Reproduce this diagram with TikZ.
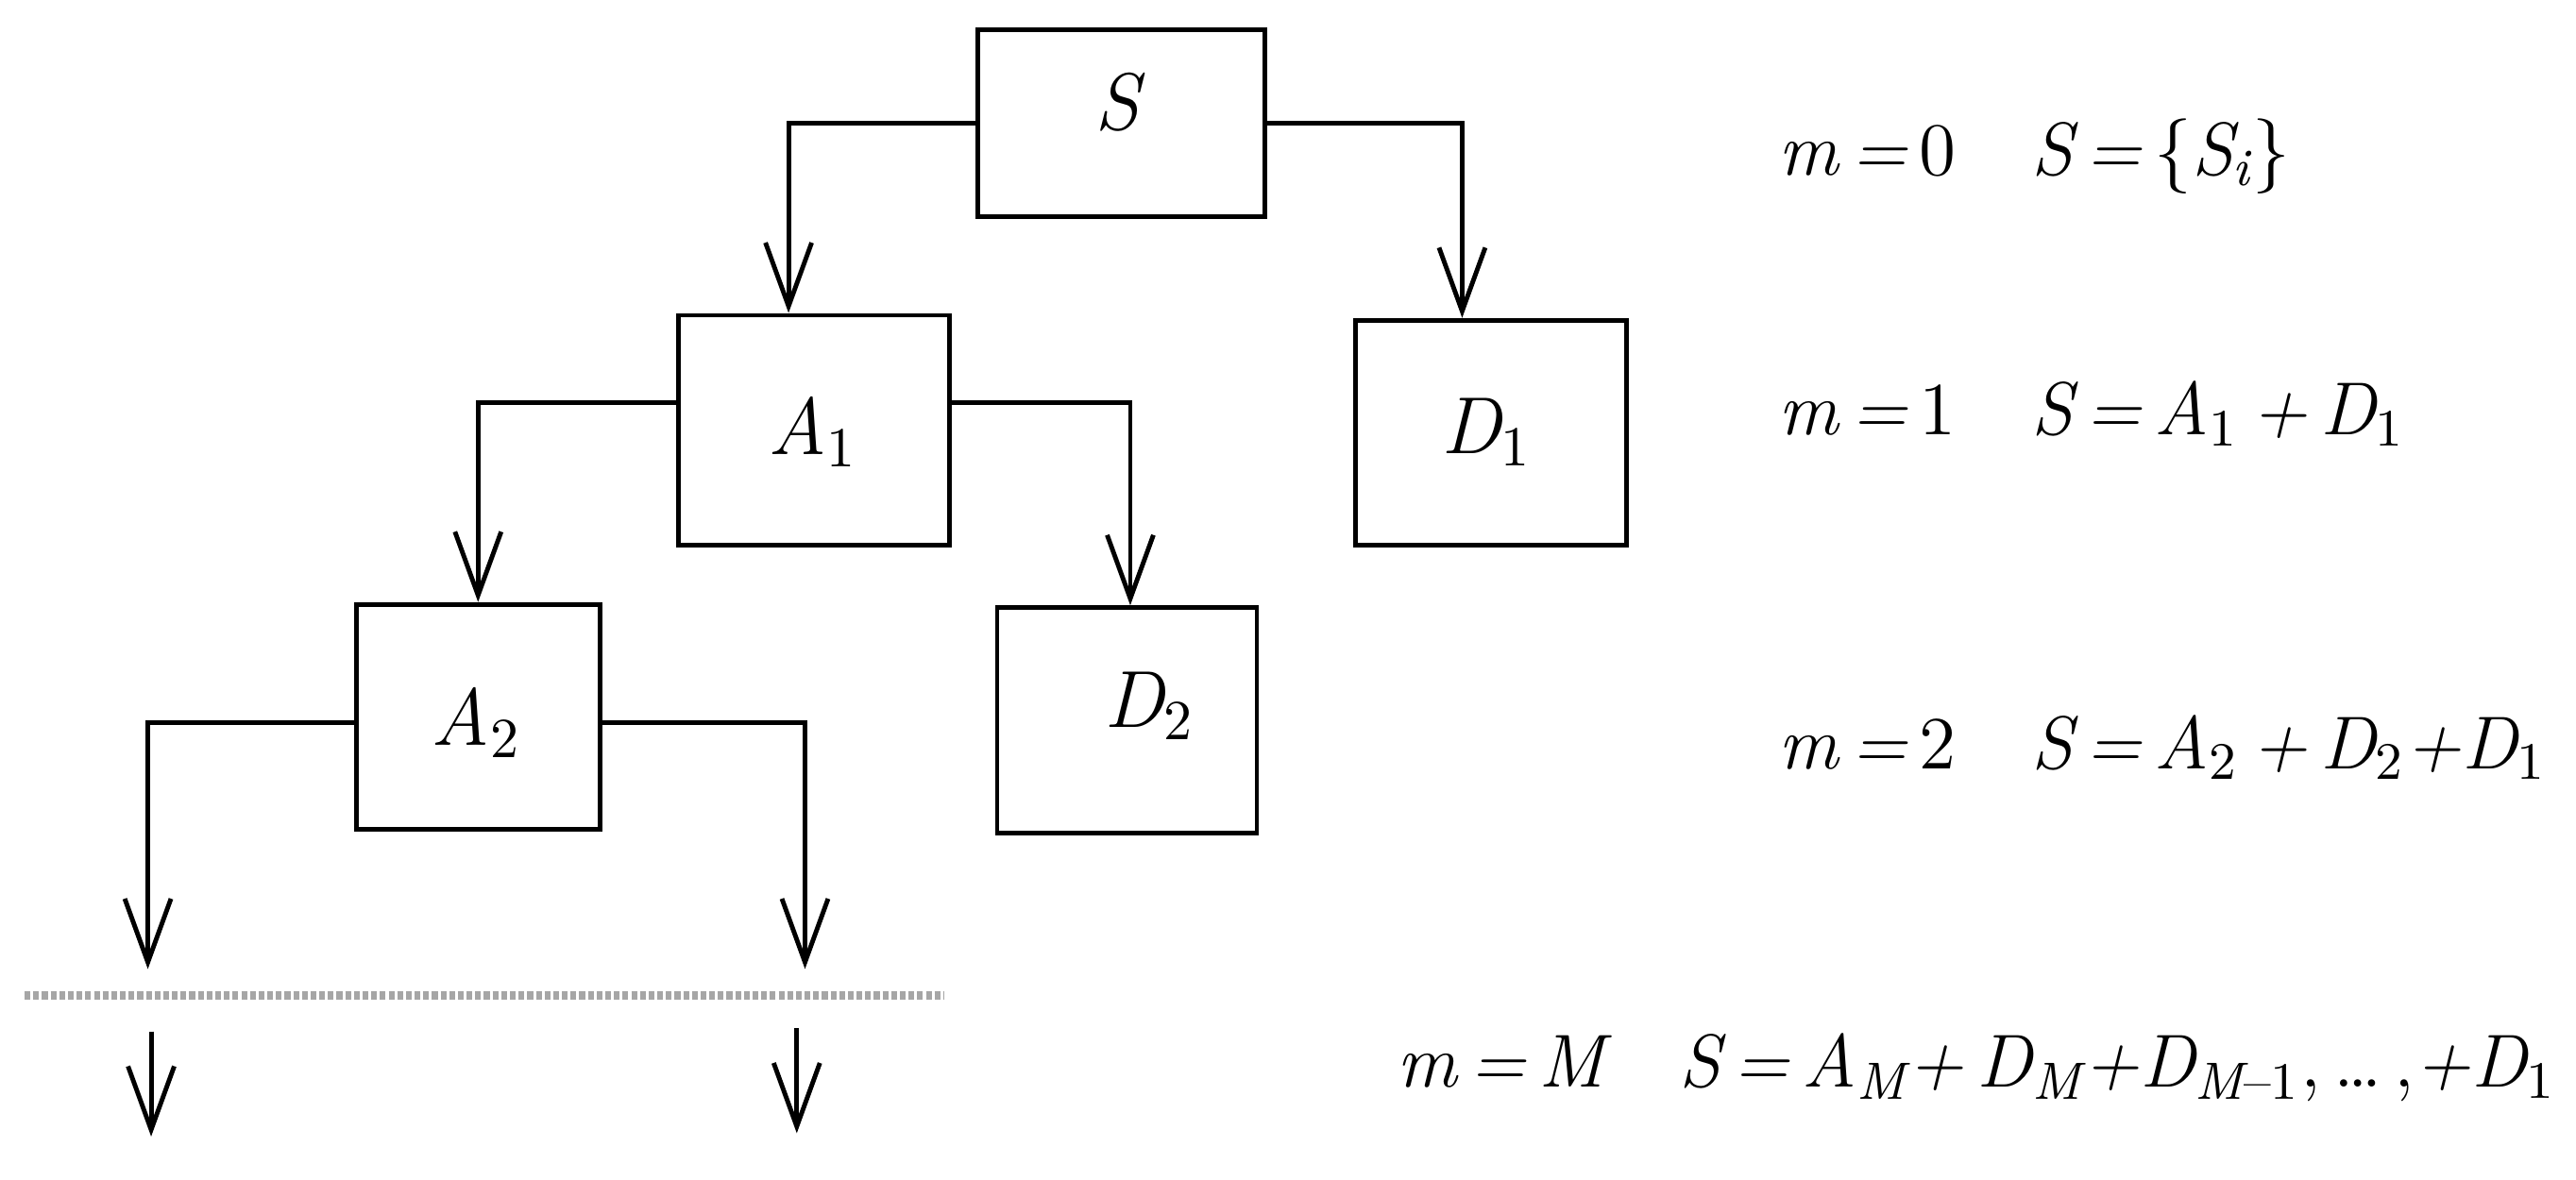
\documentclass[tikz,border=0pt]{standalone}
\usetikzlibrary{arrows.meta}
\newcommand{\up}[1]{{\upshape #1}}
\newcommand{\sbs}[1]{\textsubscript{#1}}
\begin{document}
\begin{tikzpicture}[x=0.01cm,y=-0.01cm,
  box/.style={draw,line width=0.8pt,inner sep=0pt},
  txt/.style={font=\fontsize{14}{16}\selectfont\itshape},
  arr/.style={line width=0.8pt,-{Straight Barb[length=11pt,width=8pt,line width=0.8pt]}},
  lbl/.style={anchor=west,font=\fontsize{13}{15}\selectfont\itshape}]
\useasboundingbox (0,0) rectangle (1568,718);
\node[box,minimum width=1.75cm,minimum height=1.14cm] (S) at (682.5,75) {};
\node[txt] (St) at (680,62) {S};
\node[box,minimum width=1.65cm,minimum height=1.40cm] (A1) at (495.5,262) {};
\node[txt] (A1t) at (495,263) {A\sbs{\up{1}}};
\node[box,minimum width=1.65cm,minimum height=1.37cm] (D1) at (907.5,263.5) {};
\node[txt] (D1t) at (905,263) {D\sbs{\up{1}}};
\node[box,minimum width=1.48cm,minimum height=1.37cm] (A2) at (291,436.5) {};
\node[txt] (A2t) at (290,440) {A\sbs{\up{2}}};
\node[box,minimum width=1.58cm,minimum height=1.37cm] (D2) at (686,438.5) {};
\node[txt] (D2t) at (700,430) {D\sbs{\up{2}}};
\coordinate (L1) at (90,590);
\coordinate (R1) at (490,590);
\coordinate (L2a) at (92,628); \coordinate (L2b) at (92,692);
\coordinate (R2a) at (485,626); \coordinate (R2b) at (485,690);
\draw[arr] (S.west) -| (A1.north -| 480,0);
\draw[arr] (S.east) -| (D1.north -| 890,0);
\draw[arr] ([yshift=0.17cm]A1.west) -| (A2.north);
\draw[arr] ([yshift=0.17cm]A1.east) -| (D2.north -| 688,0);
\draw[arr] ([yshift=-0.035cm]A2.west) -| (L1);
\draw[arr] ([yshift=-0.035cm]A2.east) -| (R1);
\draw[gray!70,line width=1.5pt,dash pattern=on 1pt off 0.5pt] (15,606) -- (575,606);
\draw[arr] (L2a) -- (L2b);
\draw[arr] (R2a) -- (R2b);
\node[lbl] (e0) at (1070,95) {m\,=\,\up{0}\hspace{1em}S\,=\,\up{\{}S\sbs{i}\up{\}}};
\node[lbl] (e1) at (1070,252) {m\,=\,\up{1}\hspace{1em}S\,=\,A\sbs{\up{1}}\,+\,D\sbs{\up{1}}};
\node[lbl] (e2) at (1070,455) {m\,=\,\up{2}\hspace{1em}S\,=\,A\sbs{\up{2}}\,+\,D\sbs{\up{2}}+D\sbs{\up{1}}};
\node[lbl] (eM) at (838,650) {m\,=\,M\hspace{1em}S\,=\,A\sbs{M}+\,D\sbs{M}+D\sbs{M\up{--1}}\up{,\,\ldots\,,}+D\sbs{\up{1}}};
\end{tikzpicture}
\end{document}
